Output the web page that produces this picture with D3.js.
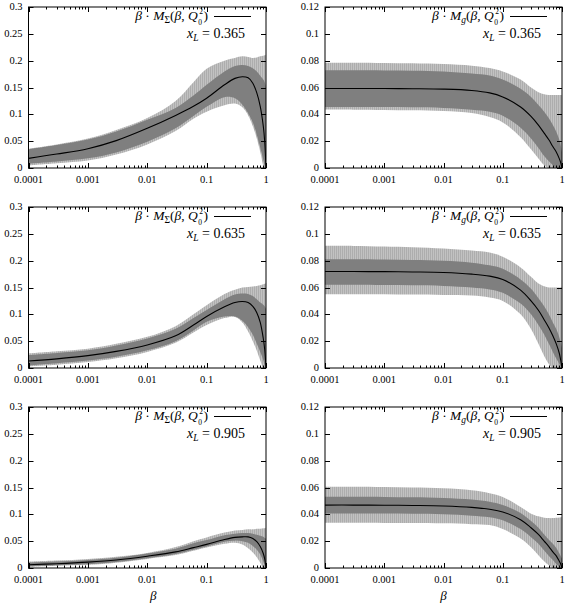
<!DOCTYPE html>
<html><head><meta charset="utf-8">
<script src="https://cdn.jsdelivr.net/npm/d3@7"></script>
<style>body{margin:0;background:#fff} svg{display:block}</style>
</head><body>
<script>
// ---------- data ----------
const betaGrid = [1e-4, 3e-4, 1e-3, 3e-3, 0.01, 0.03, 0.06, 0.1, 0.2, 0.3, 0.4, 0.5, 0.6, 0.7, 0.8, 0.9, 0.95, 1.0];
const xTickValues = [0.0001, 0.001, 0.01, 0.1, 1];
const xTickLabels = ["0.0001", "0.001", "0.01", "0.1", "1"];
const sigmaTickValues = [0, 0.05, 0.1, 0.15, 0.2, 0.25, 0.3];
const sigmaTickLabels = ["0", "0.05", "0.1", "0.15", "0.2", "0.25", "0.3"];
const gluonTickValues = [0, 0.02, 0.04, 0.06, 0.08, 0.1, 0.12];
const gluonTickLabels = ["0", "0.02", "0.04", "0.06", "0.08", "0.1", "0.12"];
const xLLabels = ["0.365", "0.635", "0.905"];

// Sigma, x_L = 0.365
const sig365Central = [0.018, 0.026, 0.036, 0.051, 0.074, 0.098, 0.115, 0.130, 0.155, 0.167, 0.170, 0.168, 0.158, 0.140, 0.115, 0.078, 0.050, 0.0];
const sig365InnerHi = [0.035, 0.043, 0.053, 0.068, 0.090, 0.112, 0.135, 0.155, 0.180, 0.190, 0.192, 0.190, 0.186, 0.180, 0.172, 0.165, 0.160, 0.150];
const sig365InnerLo = [0.008, 0.012, 0.018, 0.029, 0.049, 0.074, 0.097, 0.114, 0.132, 0.130, 0.118, 0.102, 0.085, 0.062, 0.038, 0.015, 0.005, 0.0];
const sig365OuterHi = [0.036, 0.044, 0.055, 0.071, 0.093, 0.125, 0.160, 0.185, 0.200, 0.205, 0.208, 0.207, 0.205, 0.206, 0.208, 0.209, 0.210, 0.211];
const sig365OuterLo = [0.005, 0.009, 0.014, 0.025, 0.044, 0.069, 0.092, 0.105, 0.117, 0.120, 0.113, 0.098, 0.078, 0.055, 0.030, 0.005, 0.0, 0.0];

// Sigma, x_L = 0.635
const sig635Central = [0.013, 0.017, 0.023, 0.031, 0.043, 0.060, 0.080, 0.096, 0.114, 0.122, 0.124, 0.122, 0.115, 0.103, 0.085, 0.055, 0.035, 0.0];
const sig635InnerHi = [0.024, 0.028, 0.033, 0.042, 0.055, 0.073, 0.093, 0.108, 0.128, 0.137, 0.139, 0.138, 0.134, 0.128, 0.122, 0.118, 0.115, 0.110];
const sig635InnerLo = [0.005, 0.009, 0.014, 0.021, 0.033, 0.050, 0.070, 0.086, 0.096, 0.096, 0.088, 0.076, 0.062, 0.045, 0.030, 0.015, 0.005, 0.0];
const sig635OuterHi = [0.027, 0.031, 0.036, 0.045, 0.058, 0.078, 0.100, 0.117, 0.138, 0.146, 0.150, 0.151, 0.152, 0.153, 0.154, 0.156, 0.157, 0.158];
const sig635OuterLo = [0.003, 0.006, 0.011, 0.018, 0.030, 0.047, 0.066, 0.080, 0.093, 0.095, 0.085, 0.068, 0.050, 0.032, 0.014, 0.0, 0.0, 0.0];

// Sigma, x_L = 0.905
const sig905Central = [0.006, 0.008, 0.011, 0.015, 0.022, 0.030, 0.038, 0.044, 0.053, 0.057, 0.058, 0.058, 0.055, 0.049, 0.040, 0.027, 0.017, 0.0];
const sig905InnerHi = [0.010, 0.012, 0.015, 0.019, 0.027, 0.036, 0.046, 0.052, 0.061, 0.064, 0.065, 0.065, 0.064, 0.062, 0.060, 0.058, 0.056, 0.055];
const sig905InnerLo = [0.003, 0.005, 0.007, 0.011, 0.018, 0.026, 0.034, 0.040, 0.049, 0.051, 0.050, 0.047, 0.041, 0.034, 0.025, 0.012, 0.004, 0.0];
const sig905OuterHi = [0.012, 0.014, 0.017, 0.021, 0.028, 0.039, 0.050, 0.057, 0.066, 0.070, 0.071, 0.072, 0.072, 0.073, 0.073, 0.074, 0.074, 0.075];
const sig905OuterLo = [0.002, 0.004, 0.006, 0.010, 0.017, 0.024, 0.032, 0.038, 0.045, 0.047, 0.044, 0.037, 0.029, 0.020, 0.010, 0.0, 0.0, 0.0];

// gluon, x_L = 0.365
const glu365Central = [0.0593, 0.0593, 0.0592, 0.0591, 0.0588, 0.0578, 0.0560, 0.0530, 0.0455, 0.0385, 0.032, 0.026, 0.021, 0.016, 0.012, 0.007, 0.004, 0.0];
const glu365InnerHi = [0.0728, 0.0728, 0.0727, 0.0725, 0.0720, 0.0705, 0.0690, 0.0660, 0.059, 0.053, 0.047, 0.042, 0.037, 0.032, 0.027, 0.021, 0.017, 0.012];
const glu365InnerLo = [0.0455, 0.0455, 0.0454, 0.0452, 0.0448, 0.0435, 0.0420, 0.0390, 0.030, 0.022, 0.015, 0.009, 0.005, 0.002, 0.0, 0.0, 0.0, 0.0];
const glu365OuterHi = [0.0785, 0.0785, 0.0783, 0.0780, 0.0775, 0.0763, 0.0745, 0.0720, 0.066, 0.060, 0.0565, 0.0550, 0.0545, 0.0545, 0.0545, 0.0545, 0.0545, 0.0545];
const glu365OuterLo = [0.0435, 0.0435, 0.0433, 0.0430, 0.0425, 0.0410, 0.0380, 0.0340, 0.023, 0.014, 0.007, 0.002, 0.0, 0.0, 0.0, 0.0, 0.0, 0.0];

// gluon, x_L = 0.635
const glu635Central = [0.0719, 0.0719, 0.0718, 0.0716, 0.0712, 0.0700, 0.0685, 0.0660, 0.058, 0.050, 0.043, 0.036, 0.030, 0.024, 0.018, 0.011, 0.006, 0.0];
const glu635InnerHi = [0.0810, 0.0810, 0.0808, 0.0805, 0.0800, 0.0785, 0.0765, 0.0740, 0.066, 0.059, 0.052, 0.046, 0.040, 0.034, 0.029, 0.023, 0.019, 0.015];
const glu635InnerLo = [0.0620, 0.0620, 0.0618, 0.0616, 0.0612, 0.0600, 0.0585, 0.0560, 0.048, 0.040, 0.032, 0.025, 0.018, 0.012, 0.007, 0.003, 0.001, 0.0];
const glu635OuterHi = [0.0910, 0.0910, 0.0905, 0.0900, 0.0890, 0.0875, 0.0860, 0.0830, 0.075, 0.068, 0.063, 0.061, 0.060, 0.060, 0.060, 0.060, 0.060, 0.0605];
const glu635OuterLo = [0.0550, 0.0550, 0.0549, 0.0547, 0.0545, 0.0540, 0.0525, 0.0500, 0.040, 0.029, 0.018, 0.009, 0.003, 0.0, 0.0, 0.0, 0.0, 0.0];

// gluon, x_L = 0.905
const glu905Central = [0.0469, 0.0469, 0.0468, 0.0466, 0.0462, 0.0452, 0.0438, 0.0418, 0.036, 0.030, 0.025, 0.020, 0.016, 0.012, 0.009, 0.005, 0.003, 0.0];
const glu905InnerHi = [0.0531, 0.0531, 0.0530, 0.0527, 0.0522, 0.0510, 0.0494, 0.0470, 0.041, 0.035, 0.030, 0.025, 0.021, 0.018, 0.015, 0.011, 0.009, 0.007];
const glu905InnerLo = [0.0407, 0.0407, 0.0406, 0.0404, 0.0400, 0.0390, 0.0378, 0.0355, 0.029, 0.023, 0.018, 0.013, 0.009, 0.006, 0.003, 0.001, 0.0, 0.0];
const glu905OuterHi = [0.0606, 0.0606, 0.0604, 0.0600, 0.0595, 0.0580, 0.0558, 0.0530, 0.0455, 0.0405, 0.0385, 0.0375, 0.0372, 0.0372, 0.0374, 0.0376, 0.0378, 0.038];
const glu905OuterLo = [0.0337, 0.0337, 0.0336, 0.0335, 0.0333, 0.0327, 0.0320, 0.0290, 0.022, 0.0155, 0.0095, 0.005, 0.002, 0.0, 0.0, 0.0, 0.0, 0.0];

// ---------- layout ----------
const W = 568, H = 608;
const svg = d3.select("body").append("svg").attr("width", W).attr("height", H);
const defs = svg.append("defs");
const pat = defs.append("pattern").attr("id", "stripes").attr("patternUnits", "userSpaceOnUse")
  .attr("width", 2).attr("height", 4);
pat.append("rect").attr("width", 2).attr("height", 4).attr("fill", "#c2c2c2");
pat.append("rect").attr("width", 1).attr("height", 4).attr("fill", "#adadad");

const serif = "Liberation Serif, DejaVu Serif, serif";
const cols = [{x0: 28.5, x1: 266}, {x0: 325, x1: 562}];
const rows = [7, 207, 407];
const PH = 161;

const panels = [
  {col: 0, row: 0, kind: "sigma", c: sig365Central, ih: sig365InnerHi, il: sig365InnerLo, oh: sig365OuterHi, ol: sig365OuterLo},
  {col: 1, row: 0, kind: "gluon", c: glu365Central, ih: glu365InnerHi, il: glu365InnerLo, oh: glu365OuterHi, ol: glu365OuterLo},
  {col: 0, row: 1, kind: "sigma", c: sig635Central, ih: sig635InnerHi, il: sig635InnerLo, oh: sig635OuterHi, ol: sig635OuterLo},
  {col: 1, row: 1, kind: "gluon", c: glu635Central, ih: glu635InnerHi, il: glu635InnerLo, oh: glu635OuterHi, ol: glu635OuterLo},
  {col: 0, row: 2, kind: "sigma", c: sig905Central, ih: sig905InnerHi, il: sig905InnerLo, oh: sig905OuterHi, ol: sig905OuterLo},
  {col: 1, row: 2, kind: "gluon", c: glu905Central, ih: glu905InnerHi, il: glu905InnerLo, oh: glu905OuterHi, ol: glu905OuterLo}
];

const minorTicks = [];
for (let e = -4; e < 0; e++) for (let m = 2; m <= 9; m++) minorTicks.push(m * Math.pow(10, e));

const curve = d3.curveCatmullRom.alpha(0.5);

panels.forEach((p, i) => {
  const {x0, x1} = cols[p.col];
  const top = rows[p.row], bottom = top + PH;
  const x = d3.scaleLog().domain([1e-4, 1]).range([x0, x1]);
  const yMax = p.kind === "sigma" ? 0.3 : 0.12;
  const y = d3.scaleLinear().domain([0, yMax]).range([bottom, top]);
  const yTicks = p.kind === "sigma" ? sigmaTickValues : gluonTickValues;
  const yLabels = p.kind === "sigma" ? sigmaTickLabels : gluonTickLabels;

  const g = svg.append("g");
  const clipId = "clip" + i;
  defs.append("clipPath").attr("id", clipId).append("rect")
    .attr("x", x0).attr("y", top).attr("width", x1 - x0).attr("height", PH);
  const plot = g.append("g").attr("clip-path", `url(#${clipId})`);

  const idx = d3.range(betaGrid.length);
  const area = (hi, lo) => d3.area().curve(curve)
    .x(k => x(betaGrid[k])).y0(k => y(lo[k])).y1(k => y(hi[k]));
  plot.append("path").datum(idx).attr("d", area(p.oh, p.ol)).attr("fill", "url(#stripes)");
  plot.append("path").datum(idx).attr("d", area(p.ih, p.il)).attr("fill", "#7f7f7f");
  plot.append("path").datum(idx)
    .attr("d", d3.line().curve(curve).x(k => x(betaGrid[k])).y(k => y(p.c[k])))
    .attr("fill", "none").attr("stroke", "#000").attr("stroke-width", 1.1);

  // frame
  g.append("rect").attr("x", x0).attr("y", top).attr("width", x1 - x0).attr("height", PH)
    .attr("fill", "none").attr("stroke", "#000").attr("stroke-width", 1);

  // ticks (inward)
  const tk = g.append("g").attr("stroke", "#000").attr("stroke-width", 1);
  xTickValues.forEach(v => {
    const xx = Math.round(x(v)) + 0.5;
    tk.append("line").attr("x1", xx).attr("x2", xx).attr("y1", bottom).attr("y2", bottom - 5);
    tk.append("line").attr("x1", xx).attr("x2", xx).attr("y1", top).attr("y2", top + 5);
  });
  minorTicks.forEach(v => {
    const xx = Math.round(x(v)) + 0.5;
    tk.append("line").attr("x1", xx).attr("x2", xx).attr("y1", bottom).attr("y2", bottom - 2.5);
    tk.append("line").attr("x1", xx).attr("x2", xx).attr("y1", top).attr("y2", top + 2.5);
  });
  yTicks.forEach(v => {
    const yy = Math.round(y(v)) + 0.5;
    tk.append("line").attr("x1", x0).attr("x2", x0 + 5).attr("y1", yy).attr("y2", yy);
    tk.append("line").attr("x1", x1).attr("x2", x1 - 5).attr("y1", yy).attr("y2", yy);
  });

  // tick labels
  xTickValues.forEach((v, k) => {
    g.append("text").attr("x", x(v)).attr("y", bottom + 15).attr("text-anchor", "middle")
      .attr("font-family", serif).attr("font-size", 10.5).text(xTickLabels[k]);
  });
  yTicks.forEach((v, k) => {
    g.append("text").attr("x", x0 - 6).attr("y", y(v) + 3).attr("text-anchor", "end")
      .attr("font-family", serif).attr("font-size", 10.5).text(yLabels[k]);
  });

  // legend: laid out piece by piece (main text, stacked scripts, closing paren)
  const legRight = x1 - 58;
  const base = top + 13;
  const t1 = g.append("text").attr("y", base).attr("font-family", serif).attr("font-size", 13.5);
  t1.append("tspan").attr("font-style", "italic").text("β");
  t1.append("tspan").text(" · ");
  t1.append("tspan").attr("font-style", "italic").text("M");
  if (p.kind === "sigma") {
    t1.append("tspan").attr("font-size", 9.5).attr("dy", 2.5).text("Σ");
  } else {
    t1.append("tspan").attr("font-size", 9.5).attr("font-style", "italic").attr("dy", 2.5).text("g");
  }
  t1.append("tspan").attr("dy", -2.5).text("(");
  t1.append("tspan").attr("font-style", "italic").text("β");
  t1.append("tspan").text(", ");
  t1.append("tspan").attr("font-style", "italic").text("Q");
  const sup = g.append("text").attr("y", top + 7).attr("font-family", serif).attr("font-size", 7.5).text("2");
  const sub = g.append("text").attr("y", top + 17.5).attr("font-family", serif).attr("font-size", 7.5).text("0");
  const par = g.append("text").attr("y", base).attr("font-family", serif).attr("font-size", 13.5).text(")");
  const w1 = t1.node().getComputedTextLength();
  const ws = Math.max(sup.node().getComputedTextLength(), sub.node().getComputedTextLength());
  const wp = par.node().getComputedTextLength();
  const start = legRight - (w1 + 1.5 + ws + 0.5 + wp);
  t1.attr("x", start);
  sup.attr("x", start + w1 + 1.5);
  sub.attr("x", start + w1 + 0.5);
  par.attr("x", start + w1 + 1.5 + ws + 0.5);
  g.append("line").attr("x1", x1 - 52).attr("x2", x1 - 15).attr("y1", top + 9.5).attr("y2", top + 9.5)
    .attr("stroke", "#000").attr("stroke-width", 1);

  const t2 = g.append("text").attr("x", x1 - 21).attr("y", top + 31).attr("text-anchor", "end")
    .attr("font-family", serif).attr("font-size", 14);
  t2.append("tspan").attr("font-style", "italic").text("x");
  t2.append("tspan").attr("font-style", "italic").attr("font-size", 9.5).attr("dy", 2.5).text("L");
  t2.append("tspan").attr("dy", -2.5).text(" = " + xLLabels[p.row]);

  if (p.row === 2) {
    g.append("text").attr("x", (x0 + x1) / 2 + (p.col === 0 ? 6 : 0)).attr("y", 600)
      .attr("text-anchor", "middle").attr("font-family", serif).attr("font-style", "italic")
      .attr("font-size", 13).text("β");
  }
});
</script>
</body></html>
